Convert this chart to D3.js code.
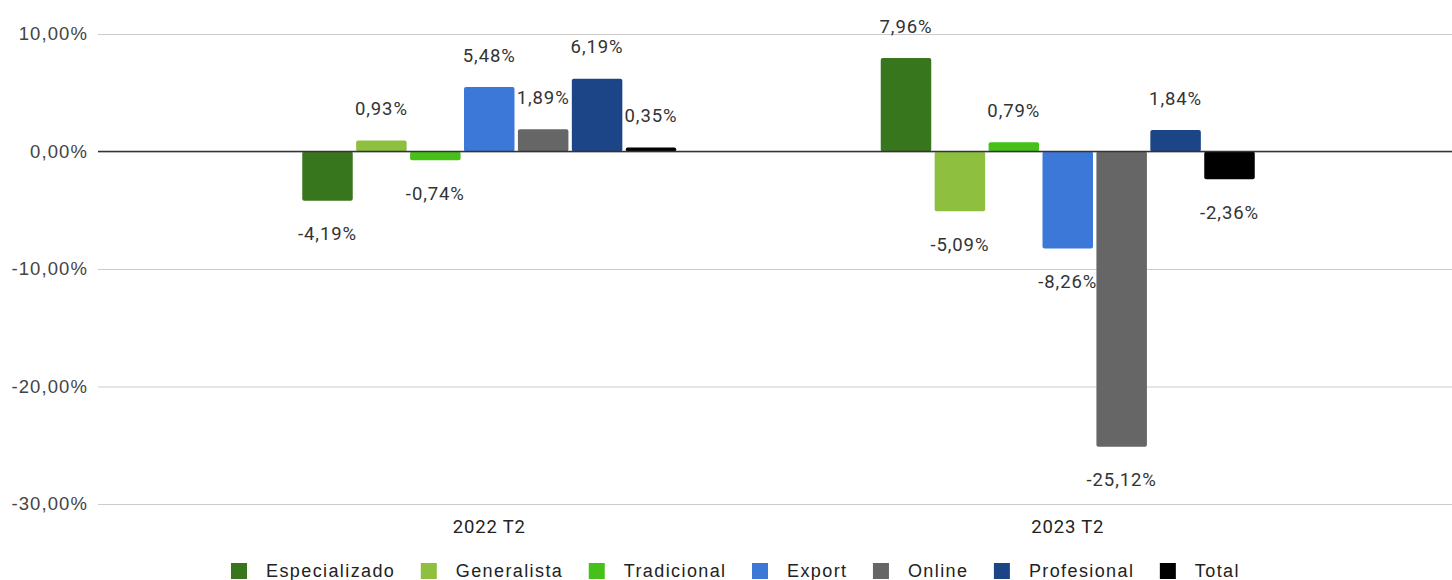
<!DOCTYPE html>
<html>
<head>
<meta charset="utf-8">
<script src="https://cdn.jsdelivr.net/npm/d3@7"></script>
<style>
  html, body { margin: 0; padding: 0; background: #fff; }
  svg { display: block; }
</style>
</head>
<body>
<svg id="chart" width="1452" height="580"></svg>
<script>
// ---- data ----
const categories = ["2022 T2", "2023 T2"];
const seriesNames = ["Especializado", "Generalista", "Tradicional", "Export", "Online", "Profesional", "Total"];
const seriesColors = ["#38761d", "#8fbf3f", "#47c11a", "#3c78d8", "#666666", "#1c4587", "#000000"];
const especializado = [-4.19, 7.96];
const generalista   = [0.93, -5.09];
const tradicional   = [-0.74, 0.79];
const exportVals    = [5.48, -8.26];
const online        = [1.89, -25.12];
const profesional   = [6.19, 1.84];
const total         = [0.35, -2.36];
const seriesValues = [especializado, generalista, tradicional, exportVals, online, profesional, total];
const yTicks = [10, 0, -10, -20, -30];

const fmt = v => d3.format(".2f")(v).replace(".", ",").replace("−", "-") + "%";

const svg = d3.select("#chart");
const plotLeft = 98, plotRight = 1452;

const y = d3.scaleLinear().domain([-30, 10]).range([504, 34]);
const x0 = d3.scaleBand().domain(categories).range([200, 1357]).paddingInner(0.3535).paddingOuter(0.17675);
const x1 = d3.scaleBand().domain(seriesNames).range([0, x0.bandwidth()]).paddingInner(0.0635).paddingOuter(0);

// grid / y axis
const yAxis = d3.axisLeft(y).tickValues(yTicks).tickFormat(fmt)
  .tickSizeInner(-(plotRight - plotLeft)).tickSizeOuter(0).tickPadding(10);
const gy = svg.append("g").attr("transform", `translate(${plotLeft},0)`).call(yAxis);
gy.select(".domain").remove();
gy.selectAll(".tick line").attr("stroke", "#cccccc").attr("stroke-width", 1);
gy.selectAll(".tick text")
  .attr("fill", "#444").attr("font-family", "'Liberation Sans', Arial, sans-serif")
  .attr("font-size", 18.5).style("letter-spacing", "1.1px");

// bars
const groups = svg.append("g").selectAll("g").data(categories).join("g")
  .attr("transform", d => `translate(${x0(d)},0)`);

const barData = (c, ci) => seriesNames.map((s, si) => ({ s, si, v: seriesValues[si][ci] }));

groups.each(function(c, ci) {
  const g = d3.select(this);
  const data = barData(c, ci);
  g.selectAll("rect").data(data).join("rect")
    .attr("x", d => x1(d.s))
    .attr("width", x1.bandwidth())
    .attr("y", d => Math.min(y(d.v), y(0)))
    .attr("height", d => Math.abs(y(d.v) - y(0)))
    .attr("rx", 2).attr("ry", 2)
    .attr("fill", d => seriesColors[d.si]);
  g.selectAll("text").data(data).join("text")
    .attr("x", d => x1(d.s) + x1.bandwidth() / 2)
    .attr("y", d => d.v >= 0 ? y(d.v) - 32 : y(d.v) + 33)
    .attr("dy", "0.36em")
    .attr("text-anchor", "middle")
    .attr("font-family", "Roboto, sans-serif")
    .attr("font-size", 18.5)
    .style("letter-spacing", "0.9px")
    .attr("fill", "#333")
    .text(d => fmt(d.v));
});

// zero line
svg.append("line")
  .attr("x1", plotLeft).attr("x2", plotRight)
  .attr("y1", y(0)).attr("y2", y(0))
  .attr("stroke", "#333").attr("stroke-width", 1.5);

// x axis labels
svg.append("g").selectAll("text").data(categories).join("text")
  .attr("x", d => x0(d) + x0.bandwidth() / 2)
  .attr("y", 526).attr("dy", "0.36em")
  .attr("text-anchor", "middle")
  .attr("font-family", "Roboto, sans-serif")
  .attr("font-size", 18.5).style("letter-spacing", "0.8px")
  .attr("fill", "#222")
  .text(d => d);

// legend
const legend = svg.append("g").attr("transform", "translate(231,571)");
let lx = 0;
seriesNames.forEach((s, i) => {
  const item = legend.append("g").attr("transform", `translate(${lx},0)`);
  item.append("rect").attr("x", 0).attr("y", -8).attr("width", 16).attr("height", 16)
    .attr("fill", seriesColors[i]);
  const t = item.append("text").attr("x", 35).attr("y", 0).attr("dy", "0.36em")
    .attr("font-family", "'Liberation Sans', Arial, sans-serif")
    .attr("font-size", 18).style("letter-spacing", "1.4px")
    .attr("fill", "#222").text(s);
  lx += 35 + t.node().getComputedTextLength() + 25.5;
});
</script>
</body>
</html>
